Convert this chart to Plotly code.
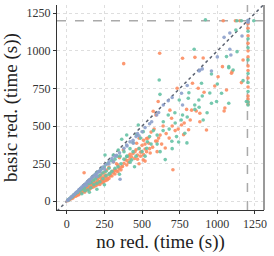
import plotly.graph_objects as go

# ---- data (seconds) ----
orange_x = [5,10,15,20,25,30,35,40,45,50,55,60,65,70,75,80,85,90,95,100,105,110,115,120,125,130,135,140,145,150,155,160,165,170,175,180,185,190,195,200,205,210,215,220,225,230,235,240,245,250,255,260,265,270,280,290,300,310,320,330,340,350,365,376,398,410,420,453,464,481,497,508,520,540,554,560,574,580,592,600,607,620,640,654,685,696,705,720,733,762,776,796,809,829,835,873,884,884,906,912,928,983,1005,1034,1039,1061,1094,1098,1050,1045,1160,1171,1120,1150,378,617,769,851,115,221,
            60,80,100,120,130,150,160,170,180,190,200,210,220,230,240,250,260,270,280,290,300,310,320,330,340,350,360,370,380,390,400,410,420,430,440,450,460,470,480,490,500,510,520,530,545,
            470,490,510,530,550,570,590,610,630,660,680,700,740,780,820,860,600,520,480,
            40,70,90,110,140,165,185,205,235,260,285,315,345,
            1204,1204,1204,1204,1204,1204,1204,1204,1204,1204,1204,1204,1204,1204]
orange_y = [4,6,12,13,20,17,29,24,31,38,36,47,41,56,48,52,69,57,66,74,62,84,70,92,77,101,83,96,118,88,108,131,97,122,112,141,107,127,158,118,149,135,119,171,154,138,182,129,163,194,151,174,208,143,226,170,198,263,210,250,240,290,230,341,241,300,280,330,386,419,330,275,380,420,321,460,599,480,574,400,663,440,500,354,606,552,210,470,751,507,443,611,476,606,785,751,585,529,953,725,474,766,828,895,1200,740,851,862,620,600,789,939,1200,1200,915,984,951,957,190,164,
            33,44,58,61,73,79,88,94,97,104,109,116,112,126,123,134,138,155,152,171,168,188,181,202,197,216,209,232,252,276,271,258,312,296,318,284,343,307,352,326,372,405,348,417,386,
            280,300,310,330,350,360,400,420,380,450,420,500,480,520,540,600,330,267,250,
            22,40,58,70,95,105,120,135,140,170,185,205,225,
            1180,1150,1100,1050,1000,960,900,870,820,760,700,680,660,645]

teal_x = [8,12,18,25,30,38,45,50,58,65,72,80,88,95,100,110,118,125,132,140,148,155,162,170,178,185,192,200,208,215,222,230,240,250,254,260,270,280,287,298,309,320,335,342,354,365,380,398,398,420,431,440,464,475,490,508,531,535,550,575,600,614,619,641,654,674,698,718,729,743,747,769,784,798,807,811,846,851,877,879,895,906,921,932,961,961,995,1028,1061,1076,1076,1076,1105,1123,1131,1171,1193,1130,1160,1242,
          100,120,140,160,180,200,220,240,260,280,300,320,340,360,380,400,420,440,460,480,500,150,250,350,450,200,
          520,560,600,640,680,720,760,800,850,900,950,1000,700,620,
          1204,1204,1204,1204,1204,1204,1204,1204,1204,1204]
teal_y = [10,8,16,22,28,30,42,45,50,60,58,72,70,88,80,100,90,115,105,130,118,145,125,160,140,175,150,190,165,200,175,215,190,230,308,200,250,220,186,270,308,280,300,341,300,412,330,297,441,350,275,390,441,507,420,463,352,396,430,470,380,806,711,529,277,574,399,589,430,394,673,574,452,388,685,722,1011,611,673,625,785,540,1207,589,846,652,663,718,962,888,895,652,873,1138,995,802,663,1200,1200,1200,
          50,70,75,90,110,120,130,150,170,180,200,220,230,250,280,300,260,330,300,350,330,60,110,180,230,80,
          300,380,440,470,480,520,540,560,640,700,720,780,350,330,
          1200,1130,1080,1020,940,850,790,730,660,640]

blue_x = [5,12,20,30,40,50,60,70,80,90,100,110,120,130,140,150,160,170,180,190,200,210,225,240,260,280,300,320,354,398,442,470,520,564,597,641,674,762,769,879,884,961,1045,1083,1083,1090,1164,1204,1204,
          130,150,200,220,250,280,310,330,350,380,400,420,440,460,480,500,550,610,700,800,900,1000]
blue_y = [5,11,18,28,37,46,57,64,76,85,94,104,112,123,131,142,150,160,168,180,185,198,210,228,245,262,285,300,146,374,386,450,490,529,574,640,669,718,640,866,872,866,1090,1119,1011,973,1099,1204,1190,
          105,128,165,196,214,248,262,305,322,352,368,395,405,430,436,462,515,590,690,770,880,960]

timeout = 1200
ticks = [0, 250, 500, 750, 1000, 1250]
x_range = [-65, 1310]
y_range = [-58, 1305]

fig = go.Figure()

# diagonal y = x
fig.add_trace(go.Scatter(x=x_range, y=x_range, mode="lines",
                         line=dict(color="#5b6270", width=1.5, dash="dot"),
                         hoverinfo="skip", showlegend=False))

for xs, ys, col in [(orange_x, orange_y, "#FC8D62"),
                    (teal_x, teal_y, "#66C2A5"),
                    (blue_x, blue_y, "#8DA0CB")]:
    fig.add_trace(go.Scatter(x=xs, y=ys, mode="markers",
                             marker=dict(color=col, size=3.6, opacity=0.9, line=dict(width=0)),
                             hoverinfo="skip", showlegend=False))

# timeout lines
fig.add_shape(type="line", xref="x", yref="paper", x0=timeout, x1=timeout, y0=0, y1=1,
              line=dict(color="#aaaaaa", width=1.5, dash="dash"), layer="below")
fig.add_shape(type="line", xref="paper", yref="y", x0=0, x1=1, y0=timeout, y1=timeout,
              line=dict(color="#aaaaaa", width=1.5, dash="dash"), layer="below")
# right border
fig.add_shape(type="line", xref="paper", yref="paper", x0=1, x1=1, y0=0, y1=1,
              line=dict(color="#999999", width=2))

font = "Liberation Serif, DejaVu Serif, serif"
axis_common = dict(tickvals=ticks, ticks="outside", ticklen=3, tickcolor="#333",
                   showgrid=True, gridcolor="#dedede", griddash="dot", gridwidth=1,
                   zeroline=False, showline=True, linecolor="#333", linewidth=1,
                   automargin=False,
                   tickfont=dict(family=font, size=12, color="#333"))

fig.update_layout(
    width=274, height=256,
    margin=dict(l=57, r=10, t=5, b=46),
    paper_bgcolor="white", plot_bgcolor="white",
    xaxis=dict(range=x_range, title=dict(text="no red. (time (s))", standoff=2,
               font=dict(family=font, size=19, color="#222")), **axis_common),
    yaxis=dict(range=y_range, title=dict(text="basic red. (time (s))", standoff=4,
               font=dict(family=font, size=19, color="#222")), **axis_common),
)

fig.write_html("out.html", config={"displayModeBar": False},
               post_script="document.body.style.margin='0';document.body.style.overflow='hidden';")
